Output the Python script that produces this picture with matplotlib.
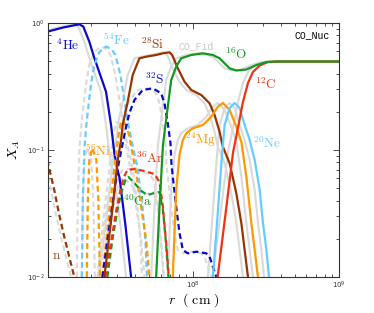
import matplotlib
matplotlib.use("Agg")
import matplotlib.pyplot as plt
import numpy as np

plt.rcParams['mathtext.fontset'] = 'cm'

# radius in units of 1e7 cm, mass fractions X_A  (CO_Nuc model)
r_he = [1.0, 1.288, 1.66, 1.767, 1.944, 2.104, 2.53, 2.74, 2.885, 3.03, 3.126, 3.436, 3.76]
x_he = [0.854, 0.922, 0.977, 0.938, 0.712, 0.530, 0.288, 0.157, 0.0947, 0.0696, 0.0613, 0.0257, 0.01]

r_fe = [1.726, 1.754, 1.796, 1.854, 1.944, 2.006, 2.104, 2.278, 2.53, 2.754, 2.934, 3.175, 3.382,
        3.603, 3.839, 4.156, 4.497, 4.715, 4.829]
x_fe = [0.01, 0.0404, 0.1, 0.1573, 0.2567, 0.343, 0.467, 0.591, 0.653, 0.624, 0.560, 0.390, 0.2475,
        0.1573, 0.1095, 0.0735, 0.0356, 0.01956, 0.01]

r_si = [2.465, 2.797, 3.043, 3.21, 3.293, 3.563, 3.858, 4.288, 4.768, 5.585, 6.201, 6.895, 7.194,
        7.862, 8.74, 9.72, 11.39, 12.99, 14.05, 15.21, 15.95, 17.82, 19.81, 21.45, 22.59, 23.81]
x_si = [0.01, 0.0337, 0.0834, 0.1199, 0.1573, 0.240, 0.390, 0.527, 0.543, 0.560, 0.577, 0.588, 0.560,
        0.440, 0.345, 0.297, 0.271, 0.233, 0.189, 0.139, 0.1075, 0.0786, 0.0456, 0.0265, 0.0163, 0.01]

r_s = [2.388, 2.754, 3.028, 3.293, 3.474, 3.661, 3.963, 4.519, 5.293, 6.046, 6.37, 6.712, 7.005,
       7.116, 7.664, 8.076, 8.51, 9.21, 10.52, 12.32, 12.99, 13.68, 14.44]
x_s = [0.01, 0.0325, 0.0696, 0.1129, 0.1526, 0.1956, 0.2475, 0.2969, 0.306, 0.2795, 0.2332, 0.1623, 0.1129,
       0.0762, 0.0356, 0.0222, 0.01632, 0.01537, 0.01582, 0.01537, 0.01445, 0.01205, 0.01]

r_o = [5.585, 5.886, 6.22, 6.712, 7.083, 7.664, 8.296, 9.72, 11.68, 13.68, 15.21, 17.82, 19.81,
       23.21, 27.19, 31.85, 37.31, 100]
x_o = [0.01, 0.0356, 0.1095, 0.2193, 0.3557, 0.4529, 0.5273, 0.560, 0.577, 0.560, 0.527, 0.4397, 0.4226,
       0.4303, 0.467, 0.493, 0.4975, 0.4975]

r_c = [14.74, 16.73, 18.83, 20.32, 21.99, 23.81, 25.76, 28.64, 32.67, 39.31, 100]
x_c = [0.01, 0.0319, 0.0964, 0.149, 0.2388, 0.337, 0.4113, 0.4627, 0.4931, 0.4975, 0.4975]

r_ne = [13.68, 14.74, 15.70, 16.47, 17.82, 19.28, 20.87, 22.59, 24.45, 26.47, 28.64, 30.18, 31.85, 33.19]
x_ne = [0.01, 0.0308, 0.0834, 0.1573, 0.2142, 0.2345, 0.2142, 0.1573, 0.1199, 0.0834, 0.0484, 0.0266,
        0.01632, 0.01]

r_mg = [7.264, 7.664, 8.076, 8.51, 9.02, 9.97, 11.68, 13.34, 14.81, 16.03, 17.82, 19.81, 21.45,
        23.21, 25.12, 26.47, 27.88]
x_mg = [0.01, 0.0484, 0.0913, 0.1199, 0.1361, 0.1482, 0.1573, 0.1829, 0.2193, 0.2345, 0.2065, 0.1526,
        0.1156, 0.0616, 0.0265, 0.01632, 0.01]

r_ni = [1.868, 1.898, 1.944, 2.039, 2.172, 2.241, 2.296, 2.351, 2.40, 2.668, 2.934, 3.076, 3.21,
        3.382, 3.563, 3.661, 4.07, 4.406, 4.768, 5.023]
x_ni = [0.01, 0.0404, 0.0834, 0.1037, 0.0834, 0.0404, 0.01, 0.004, 0.01, 0.0337, 0.0834, 0.1312, 0.1662,
        0.1632, 0.1437, 0.1266, 0.0659, 0.0356, 0.01956, 0.01]

r_ar = [2.503, 2.754, 2.98, 3.175, 3.33, 3.547, 3.963, 4.642, 5.437, 5.886, 6.201, 6.543, 6.82]
x_ar = [0.01, 0.01956, 0.0337, 0.0484, 0.0602, 0.0696, 0.0709, 0.0683, 0.0647, 0.056, 0.0362, 0.01852, 0.01]

r_ca = [2.585, 2.797, 3.028, 3.226, 3.436, 3.603, 3.963, 4.426, 4.868, 5.437, 5.886, 6.22, 6.522, 6.786]
x_ca = [0.01, 0.01956, 0.0337, 0.0467, 0.058, 0.0613, 0.055, 0.0475, 0.0442, 0.0459, 0.0467, 0.0337,
        0.01852, 0.01]

r_n = [1.0, 1.117, 1.209, 1.309, 1.416, 1.533]
x_n = [0.0834, 0.0484, 0.0308, 0.02065, 0.01437, 0.01]

# CO_Fid model (grey), radii
rf_he = [0.924, 1.19, 1.534, 1.633, 1.796, 1.944, 2.338, 2.532, 2.666, 2.8, 2.888, 3.175, 3.474]
rf_fe = [1.595, 1.621, 1.66, 1.713, 1.796, 1.854, 1.944, 2.105, 2.338, 2.545, 2.711, 2.934, 3.125,
         3.329, 3.547, 3.84, 4.155, 4.357, 4.462]
rf_si = [2.278, 2.584, 2.812, 2.966, 3.043, 3.292, 3.565, 3.962, 4.406, 5.161, 5.730, 6.371, 6.647,
         7.264, 8.076, 8.981, 10.52, 12.0, 12.98, 14.05, 14.74, 16.47, 18.3, 19.82, 20.87, 22.0]
rf_s = [2.207, 2.545, 2.798, 3.043, 3.21, 3.383, 3.662, 4.176, 4.891, 5.586, 5.886, 6.202, 6.473,
        6.575, 7.082, 7.462, 7.863, 8.51, 9.72, 11.38, 12.0, 12.64, 13.34]
rf_o = [5.161, 5.439, 5.747, 6.202, 6.545, 7.082, 7.666, 8.981, 10.79, 12.64, 14.05, 16.47, 18.3,
        21.45, 25.12, 29.43, 34.47, 100]
rf_c = [13.62, 15.46, 17.4, 18.78, 20.32, 22.0, 23.8, 26.46, 30.19, 36.32, 100]
rf_ne = [12.64, 13.62, 14.51, 15.22, 16.47, 17.81, 19.28, 20.87, 22.59, 24.46, 26.46, 27.89, 29.43, 30.67]
rf_mg = [6.712, 7.082, 7.462, 7.863, 8.334, 9.212, 10.79, 12.33, 13.68, 14.81, 16.47, 18.3, 19.82,
         21.45, 23.21, 24.46, 25.76]
rf_ni = [1.726, 1.754, 1.796, 1.884, 2.007, 2.071, 2.122, 2.172, 2.218, 2.465, 2.711, 2.842, 2.966,
         3.125, 3.292, 3.383, 3.761, 4.071, 4.406, 4.641]
rf_ar = [2.313, 2.545, 2.754, 2.934, 3.077, 3.277, 3.662, 4.289, 5.024, 5.439, 5.73, 6.046, 6.302]
rf_ca = [2.389, 2.584, 2.798, 2.981, 3.175, 3.329, 3.662, 4.09, 4.498, 5.024, 5.439, 5.747, 6.026, 6.27]
rf_n = [0.95, 1.061, 1.149, 1.244, 1.345, 1.456]

blue = '#0a0acc'
lblue = '#66ccff'
brown = '#993300'
green = '#119922'
red = '#ee3311'
orange = '#ff9900'
grey = '#dadada'

# (name, r, r_fid, X, colour, dashed)
species = [
    ('n', r_n, rf_n, x_n, brown, True),
    ('He', r_he, rf_he, x_he, blue, False),
    ('Fe', r_fe, rf_fe, x_fe, lblue, True),
    ('Ni', r_ni, rf_ni, x_ni, orange, True),
    ('Ca', r_ca, rf_ca, x_ca, green, True),
    ('Ar', r_ar, rf_ar, x_ar, red, True),
    ('S', r_s, rf_s, x_s, blue, True),
    ('Si', r_si, rf_si, x_si, brown, False),
    ('Mg', r_mg, rf_mg, x_mg, orange, False),
    ('Ne', r_ne, rf_ne, x_ne, lblue, False),
    ('C', r_c, rf_c, x_c, red, False),
    ('O', r_o, rf_o, x_o, green, False),
]

fig = plt.figure(figsize=(3.74, 3.13), dpi=100)
ax = fig.add_axes([0.128, 0.115, 0.778, 0.8115])

for name, r, rf, x, col, dash in species:
    kw = dict(color=grey, lw=1.5)
    if dash:
        kw['dashes'] = (2.6, 1.6)
    ax.plot(np.array(rf)*1e7, x, **kw)

for name, r, rf, x, col, dash in species:
    kw = dict(color=col, lw=1.6)
    if dash:
        kw['dashes'] = (2.6, 1.6)
    ax.plot(np.array(r)*1e7, x, **kw)

ax.set_xscale('log')
ax.set_yscale('log')
ax.set_xlim(1.01e7, 1e9)
ax.set_ylim(1e-2, 1.0)

# labels: text, axes-fraction x, y, colour
labels = [
    (r'$^{4}\mathrm{He}$', 0.069, 0.913, blue),
    (r'$^{54}\mathrm{Fe}$', 0.234, 0.933, lblue),
    (r'$^{28}\mathrm{Si}$', 0.361, 0.917, brown),
    (r'$^{16}\mathrm{O}$', 0.646, 0.878, green),
    (r'$^{12}\mathrm{C}$', 0.749, 0.760, red),
    (r'$^{32}\mathrm{S}$', 0.368, 0.780, blue),
    (r'$^{24}\mathrm{Mg}$', 0.526, 0.539, orange),
    (r'$^{20}\mathrm{Ne}$', 0.753, 0.528, lblue),
    (r'$^{56}\mathrm{Ni}$', 0.172, 0.496, orange),
    (r'$^{36}\mathrm{Ar}$', 0.351, 0.469, red),
    (r'$^{40}\mathrm{Ca}$', 0.306, 0.299, green),
    (r'$\mathrm{n}$', 0.031, 0.083, '#a0522d'),
]
for txt, fx, fy, col in labels:
    ax.text(fx, fy, txt, color=col, fontsize=9.5, ha='center', va='center',
            transform=ax.transAxes)

ax.text(0.509, 0.909, 'CO_Fid', color='#c8c8c8', fontsize=7, family='Liberation Mono',
        ha='center', va='center', transform=ax.transAxes)
ax.text(0.907, 0.953, 'CO_Nuc', color='black', fontsize=7, family='Liberation Mono',
        ha='center', va='center', transform=ax.transAxes)

ax.set_xlabel(r'$r\ \ (\ \mathrm{cm}\ )$', fontsize=10, labelpad=0)
ax.set_ylabel(r'$X_A$', fontsize=10)
ax.yaxis.set_label_coords(-0.09, 0.5)

ax.tick_params(which='both', direction='in', top=True, right=True, labelsize=5,
               colors='#333333', width=0.6, pad=2)
ax.tick_params(which='major', length=4)
ax.tick_params(which='minor', length=2)
for sp in ax.spines.values():
    sp.set_color('#333333')
    sp.set_linewidth(0.8)

fig.savefig('out.png', dpi=100)
